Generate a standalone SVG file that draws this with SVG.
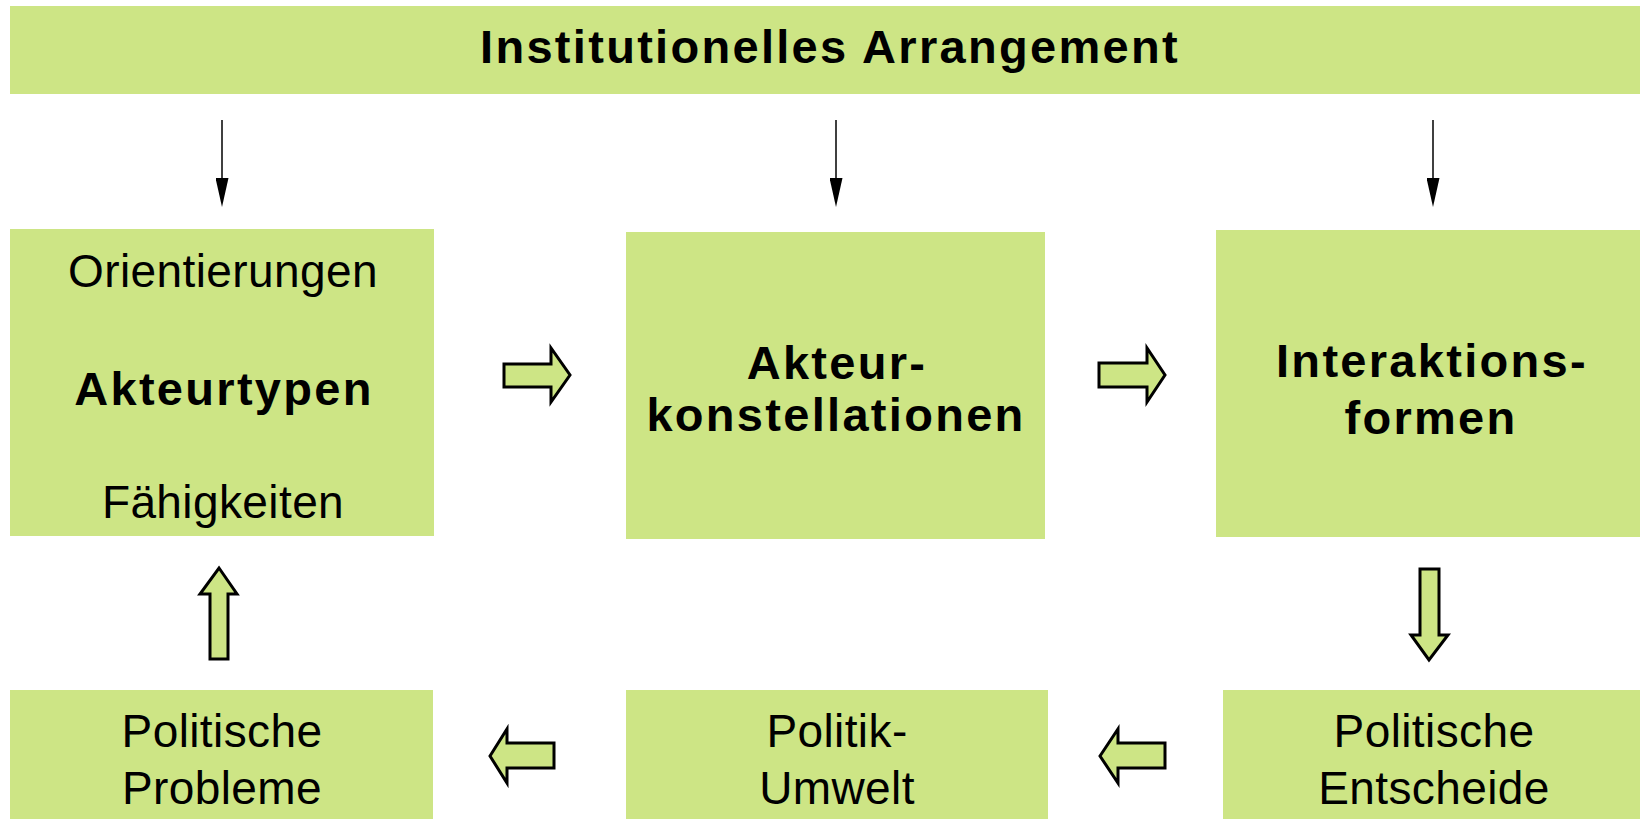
<svg xmlns="http://www.w3.org/2000/svg" width="1640" height="819" viewBox="0 0 1640 819">
<defs>
<style>
.box{fill:#CDE585;stroke:none}
.blk{fill:#CDE585;stroke:#000;stroke-width:3;stroke-linejoin:miter}
.thin{stroke:#000;stroke-width:1.5;fill:none}
.b{font-family:"Liberation Sans",Arial,sans-serif;font-weight:bold;font-size:47px;letter-spacing:2.3px;text-anchor:middle;fill:#000}
.r{font-family:"Liberation Sans",Arial,sans-serif;font-size:46px;letter-spacing:0.4px;text-anchor:middle;fill:#000}
</style>
<marker id="ah" markerUnits="userSpaceOnUse" markerWidth="29" markerHeight="13" viewBox="0 0 29 13" refX="0" refY="6.5" orient="auto">
<path d="M0,0 L29,6.5 L0,13 z" fill="#000"/>
</marker>
</defs>
<rect width="1640" height="819" fill="#fff"/>

<g id="institutionelles-arrangement">
<rect class="box" x="10" y="6" width="1630" height="88"/>
<text class="b" x="830" y="63">Institutionelles Arrangement</text>
</g>

<g id="akteurtypen">
<rect class="box" x="10" y="229" width="424" height="307"/>
<text class="r" x="223" y="287">Orientierungen</text>
<text class="b" x="224" y="405">Akteurtypen</text>
<text class="r" x="223" y="518">Fähigkeiten</text>
</g>

<g id="akteurkonstellationen">
<rect class="box" x="626" y="232" width="419" height="307"/>
<text class="b" x="837" y="379">Akteur-</text>
<text class="b" x="836" y="431">konstellationen</text>
</g>

<g id="interaktionsformen">
<rect class="box" x="1216" y="230" width="424" height="307"/>
<text class="b" x="1432" y="377">Interaktions-</text>
<text class="b" x="1431" y="434">formen</text>
</g>

<g id="politische-probleme">
<rect class="box" x="10" y="690" width="423" height="129"/>
<text class="r" x="222" y="747">Politische</text>
<text class="r" x="222" y="804">Probleme</text>
</g>

<g id="politik-umwelt">
<rect class="box" x="626" y="690" width="422" height="129"/>
<text class="r" x="837" y="747">Politik-</text>
<text class="r" x="837" y="804">Umwelt</text>
</g>

<g id="politische-entscheide">
<rect class="box" x="1223" y="690" width="417" height="129"/>
<text class="r" x="1434" y="747">Politische</text>
<text class="r" x="1434" y="804">Entscheide</text>
</g>

<g id="connectors">
<line class="thin" x1="222" y1="120" x2="222" y2="178" marker-end="url(#ah)"/>
<line class="thin" x1="836" y1="120" x2="836" y2="178" marker-end="url(#ah)"/>
<line class="thin" x1="1433" y1="120" x2="1433" y2="178" marker-end="url(#ah)"/>
<polygon class="blk" points="504,364 551,364 551,348 570,375 551,402 551,387 504,387"/>
<polygon class="blk" points="1099,363 1147,363 1147,348 1165,375 1147,402 1147,387 1099,387"/>
<polygon class="blk" points="1420,569 1439,569 1439,635 1448,635 1429,660 1411,635 1420,635"/>
<polygon class="blk" points="1100,756 1118,729 1118,743 1165,743 1165,768 1118,768 1118,783"/>
<polygon class="blk" points="490,756 507,729 507,743 554,743 554,768 507,768 507,783"/>
<polygon class="blk" points="210,659 210,594 200,594 219,568 237,594 228,594 228,659"/>
</g>
</svg>
